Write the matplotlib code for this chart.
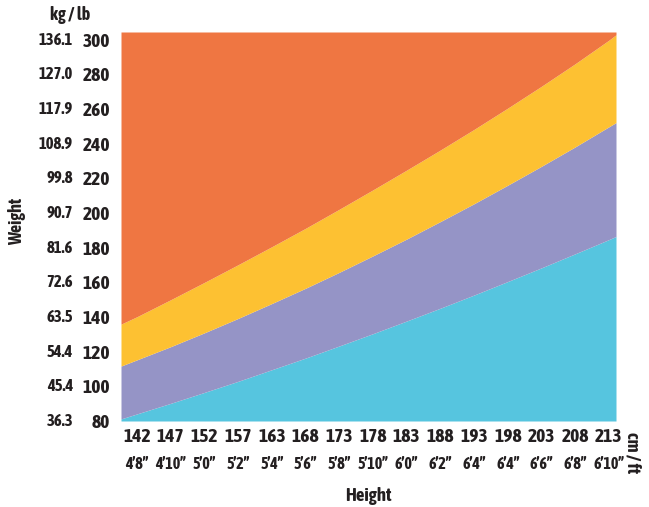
import matplotlib
matplotlib.use('Agg')
import matplotlib.pyplot as plt

plt.rcParams['font.family'] = ['Asap Condensed', 'DejaVu Sans']

# height in inches (samples across the plot), weight boundaries in lb
height_in = [55.05, 56, 58, 60, 62, 64, 66, 68, 70, 72, 74, 76, 78, 80, 82, 84, 84.42]
under = [81.2, 84.1, 90.2, 96.5, 102.9, 109.6, 116.3, 123.3, 130.4, 137.7, 145.1,
         152.7, 160.5, 168.4, 176.5, 184.7, 186.5]
normal = [111.7, 115.3, 122.9, 130.9, 139.2, 147.8, 156.6, 165.8, 175.3, 185.0, 195.1,
          205.4, 216.1, 227.0, 238.2, 249.8, 252.2]
over = [135.9, 140.2, 150.0, 160.0, 170.2, 180.6, 191.2, 202.2, 213.4, 224.8, 236.4,
        248.3, 260.6, 273.2, 286.2, 299.8, 302.9]

lb_ticks = [80, 100, 120, 140, 160, 180, 200, 220, 240, 260, 280, 300]
kg_labels = ['36.3', '45.4', '54.4', '63.5', '72.6', '81.6', '90.7', '99.8',
             '108.9', '117.9', '127.0', '136.1']
in_ticks = [56, 58, 60, 62, 64, 66, 68, 70, 72, 74, 76, 78, 80, 82, 84]
cm_labels = ['142', '147', '152', '157', '163', '168', '173', '178', '183',
             '188', '193', '198', '203', '208', '213']
ft_labels = ['4’8”', '4’10”', '5’0”', '5’2”', '5’4”', '5’6”', '5’8”', '5’10”',
             '6’0”', '6’2”', '6’4”', '6’4”', '6’6”', '6’8”', '6’10”']

c_blue = '#56c5df'
c_purple = '#9594c6'
c_yellow = '#fdc132'
c_orange = '#ef7642'
txt = '#231f20'

fig = plt.figure(figsize=(6.49, 5.07), dpi=100)
ax = fig.add_axes([121/649, 86/507, 495/649, 389/507])

ymin, ymax = 80, 304.5
ax.fill_between(height_in, ymin, under, color=c_blue, lw=0)
ax.fill_between(height_in, under, normal, color=c_purple, lw=0)
ax.fill_between(height_in, normal, over, color=c_yellow, lw=0)
ax.fill_between(height_in, over, ymax, color=c_orange, lw=0)

ax.set_xlim(height_in[0], height_in[-1])
ax.set_ylim(ymin, ymax)
for s in ax.spines.values():
    s.set_visible(False)

ax.set_yticks(lb_ticks)
ax.set_yticklabels([str(v) for v in lb_ticks], fontsize=14, fontweight='bold', color=txt)
ax.set_xticks(in_ticks)
ax.set_xticklabels(cm_labels, fontsize=14, fontweight='bold', color=txt)
ax.tick_params(axis='y', length=0, pad=8)
ax.tick_params(axis='x', length=0, pad=5)

for v, k in zip(lb_ticks, kg_labels):
    ax.annotate(k, xy=(0, v), xycoords=('axes fraction', 'data'),
                xytext=(-48, 0), textcoords='offset pixels',
                ha='right', va='center', fontsize=12, fontweight='bold', color=txt)

for v, f in zip(in_ticks, ft_labels):
    ax.annotate(f, xy=(v, 0), xycoords=('data', 'axes fraction'),
                xytext=(0, -43), textcoords='offset pixels',
                ha='center', va='center', fontsize=11.5, fontweight='bold', color=txt)

fig.text(70/649, 1 - 15/507, 'kg / lb', ha='center', va='center',
         fontsize=13, fontweight='bold', color=txt)
fig.text(17/649, 1 - 221/507, 'Weight', ha='center', va='center', rotation=90,
         fontsize=13, fontweight='bold', color=txt)
fig.text(368/649, 1 - 496/507, 'Height', ha='center', va='center',
         fontsize=13.5, fontweight='bold', color=txt)
fig.text(633/649, 1 - 453/507, 'cm / ft', ha='center', va='center', rotation=-90,
         fontsize=13, fontweight='bold', color=txt)

fig.savefig('out.png', dpi=100)
